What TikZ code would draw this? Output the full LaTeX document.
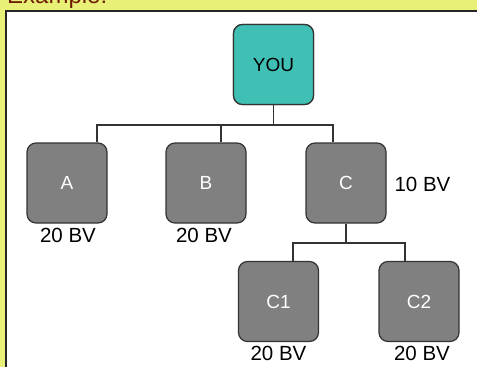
\documentclass[tikz,border=0pt]{standalone}
\usepackage{fontspec}
\setmainfont{Liberation Sans}
\usetikzlibrary{positioning}

\definecolor{pagebg}{RGB}{232,240,120}
\definecolor{youfill}{RGB}{64,192,180}
\definecolor{memfill}{RGB}{128,128,128}
\definecolor{titlered}{RGB}{110,30,0}

\begin{document}
\begin{tikzpicture}[x=1pt,y=-1pt,
  member/.style={draw=black!80,line width=1.2pt,rounded corners=9pt,
    minimum width=80pt,minimum height=80pt,inner sep=0pt,
    fill=memfill,text=white,font=\fontsize{19}{19}\selectfont},
  bv/.style={inner sep=0pt,font=\fontsize{20.5}{20.5}\selectfont}]
\useasboundingbox (0,0) rectangle (477,367);
\fill[pagebg] (0,0) rectangle (477,367);
\begin{scope}
\clip (0,0) rectangle (477,367);
\node[anchor=base west,inner sep=0pt,text=titlered,font=\fontsize{24}{24}\selectfont] (title) at (7,3) {Example:};
\filldraw[fill=white,draw=black!85,line width=2pt] (6,380) -- (6,11) -- (490,11) -- (490,380) -- cycle;
\end{scope}

\foreach \pos/\name/\disp in {{(273.5,64.5)/you/YOU}, {(67,183)/a/A}, {(206,183)/b/B}, {(346,183)/c/C}, {(278.5,301.5)/cone/C1}, {(419,301.5)/ctwo/C2}}
\node[member] (\name) at \pos {\disp};
\node[member,fill=youfill,text=black] at (you) {YOU};

% bars between the boxes
\coordinate (bustop) at (273.5,125);
\coordinate (busc) at (346,243);
\draw[line width=1.2pt,black!80] (you) -- (bustop);
\draw[line width=1.2pt,black!80] (c) -- (busc);
\foreach \dest/\off in {a/30, b/15, c/-13}
\draw[line width=1.2pt,black!80] (bustop) -| ([xshift=\off pt]\dest.north);
\foreach \dest/\off in {cone/14.5, ctwo/-14}
\draw[line width=1.2pt,black!80] (busc) -| ([xshift=\off pt]\dest.north);

% BV values
\foreach \pos/\name/\disp in {{(68,235)/bva/20 BV}, {(204,235)/bvb/20 BV}, {(422.5,184)/bvc/10 BV}, {(278.5,353)/bvcone/20 BV}, {(422,353)/bvctwo/20 BV}}
\node[bv] (\name) at \pos {\disp};
\end{tikzpicture}
\end{document}
